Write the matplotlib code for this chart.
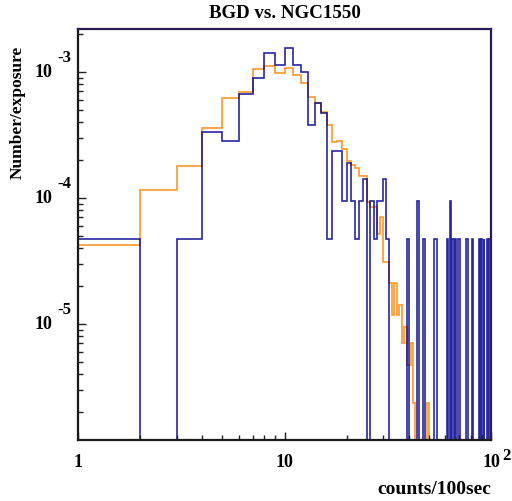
import numpy as np
import matplotlib
matplotlib.use("Agg")
import matplotlib.pyplot as plt
import matplotlib.transforms as mtransforms
from matplotlib.ticker import LogLocator, NullFormatter

# ---- data (counts per 1-count-wide bin, bins [1,2) ... [99,100)) ----
bin_edges = np.arange(1, 101)

ngc_counts = [1, 0, 1, 7, 6, 14, 19, 30, 24, 33,
              24, 21, 8, 12, 10, 1, 5, 5, 2, 4,
              2, 1, 2, 3, 0, 2, 1, 2, 2, 3,
              1, 0, 0, 0, 0, 0, 0, 0, 1, 0,
              0, 0, 0, 2, 0, 0, 1, 0, 0, 0,
              0, 0, 1, 1, 0, 0, 0, 0, 0, 0,
              1, 0, 2, 0, 1, 0, 1, 0, 1, 1,
              0, 0, 0, 0, 0, 1, 0, 0, 0, 0,
              1, 0, 0, 0, 0, 0, 1, 0, 1, 0,
              0, 1, 0, 0, 0, 1, 0, 1, 1]

bgd_counts = [18, 49, 76, 151, 261, 291, 445, 468, 416, 451,
              399, 345, 265, 237, 204, 161, 118, 120, 103, 83,
              77, 73, 63, 63, 39, 36, 36, 22, 30, 13,
              13, 9, 5, 9, 5, 6, 3, 4, 2, 2,
              3, 1, 0, 0, 0, 0, 0, 0, 1, 0,
              0, 0, 0, 0, 0, 0, 0, 0, 0, 0,
              0, 0, 0, 0, 0, 0, 0, 0, 0, 0,
              0, 0, 0, 0, 0, 0, 0, 0, 0, 0,
              0, 0, 0, 0, 0, 0, 0, 0, 0, 0,
              0, 0, 0, 0, 0, 0, 0, 0, 0]

ngc_exposure = 2.115e4
bgd_exposure = 4.22e5

title = "BGD vs. NGC1550"
xlabel = "counts/100sec"
ylabel = "Number/exposure"
xticks = [1, 10, 100]
yticks = [1e-3, 1e-4, 1e-5]
ytick_exp = ["-3", "-4", "-5"]

# ---- figure ----
W, H = 512, 502
fig = plt.figure(figsize=(W / 100, H / 100), dpi=100)
ax = fig.add_axes([78 / W, 1 - 441 / H, (491 - 78) / W, (441 - 30) / H])
ax.set_xscale("log")
ax.set_yscale("log", nonpositive="clip")

ngc_rate = np.array(ngc_counts, dtype=float) / ngc_exposure
bgd_rate = np.array(bgd_counts, dtype=float) / bgd_exposure

ax.stairs(bgd_rate, bin_edges, color="#ff8a10", lw=1.2, alpha=0.9, baseline=None)
ax.stairs(ngc_rate, bin_edges, color="#000090", lw=1.2, alpha=0.85, baseline=None)

ax.set_xlim(1, 100)
ax.set_ylim(1.2e-6, 2.19e-3)

# ticks
ax.xaxis.set_major_locator(LogLocator(base=10, numticks=10))
ax.xaxis.set_minor_locator(LogLocator(base=10, subs=np.arange(2, 10), numticks=20))
ax.yaxis.set_major_locator(LogLocator(base=10, numticks=10))
ax.yaxis.set_minor_locator(LogLocator(base=10, subs=np.arange(2, 10), numticks=20))
ax.xaxis.set_major_formatter(NullFormatter())
ax.xaxis.set_minor_formatter(NullFormatter())
ax.yaxis.set_major_formatter(NullFormatter())
ax.yaxis.set_minor_formatter(NullFormatter())
ax.tick_params(which="both", direction="in", top=False, right=False, color="#222222")
ax.tick_params(which="major", length=6, width=1.0)
ax.tick_params(which="minor", length=3.5, width=1.0)

for side in ["left", "bottom"]:
    ax.spines[side].set_color("#1a1a1a")
    ax.spines[side].set_linewidth(1.6)
for side in ["top", "right"]:
    ax.spines[side].set_color("#2a1a55")
    ax.spines[side].set_linewidth(1.6)

font = dict(family="Liberation Serif", weight="bold")

# tick labels drawn manually (ROOT style)
xt = mtransforms.blended_transform_factory(ax.transData, fig.transFigure)
for v in xticks:
    lab = "10" if v >= 10 else "1"
    ax.text(v, 1 - 463 / H, lab, transform=xt, ha="center", va="center", fontsize=13, **font)
ax.text(506 / W, 1 - 456 / H, "2", transform=fig.transFigure, ha="center", va="center",
        fontsize=12, **font)

yt = mtransforms.blended_transform_factory(fig.transFigure, ax.transData)
for v, e in zip(yticks, ytick_exp):
    ax.text(52 / W, v, "10", transform=yt, ha="right", va="center", fontsize=13, **font)
    off = mtransforms.offset_copy(yt, fig=fig, x=0, y=15, units="dots")
    ax.text(57 / W, v, e, transform=off, ha="left", va="center", fontsize=12, **font)

fig.text(285 / W, 1 - 14 / H, title, ha="center", va="center", fontsize=13.6, **font)
fig.text(491 / W, 1 - 490 / H, xlabel, ha="right", va="center", fontsize=14, **font)
fig.text(18 / W, 1 - 112 / H, ylabel, rotation=90, ha="center", va="center", fontsize=12.5, **font)

fig.savefig("out.png", dpi=100)
